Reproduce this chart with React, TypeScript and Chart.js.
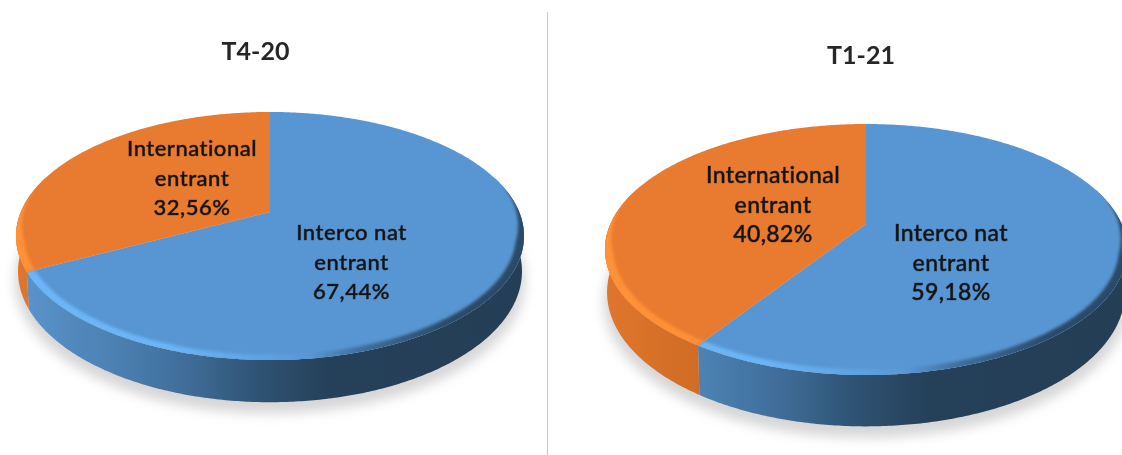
import React, { useEffect, useRef } from "react";
import { Chart, registerables } from "chart.js";

Chart.register(...registerables);

const sliceNames = [["Interco nat", "entrant"], ["International", "entrant"]];
const titles = ["T4-20", "T1-21"];
const valuesT4 = [67.44, 32.56];
const valuesT1 = [59.18, 40.82];
const faceColors = ["#5896D3", "#E97B30"];
const FONT = "Lato, 'Open Sans', sans-serif";

type View = {
  title: string; titleX: number; titleY: number; a: number; b: number; k: number; d: number; fontSize: number;
  labels: { x: number; y: number }[]; padding: any; left: number; width: number;
};

const views: View[] = [
  {
    title: titles[0], titleX: 255.5, titleY: 52, a: 249.2, b: 119.4, k: 0.1935, d: 34, fontSize: 22,
    labels: [{ x: 351.5, y: 233 }, { x: 192, y: 149 }],
    padding: { left: 0, right: 8, top: 0, bottom: 31 }, left: 0, width: 548,
  },
  {
    title: titles[1], titleX: 313, titleY: 56, a: 255.6, b: 120.3, k: 0.203, d: 41, fontSize: 23,
    labels: [{ x: 403, y: 234 }, { x: 225, y: 176 }],
    padding: { left: 62, right: 0, top: 0, bottom: 7 }, left: 548, width: 574,
  },
];

function projector(cx: number, cy: number, v: View) {
  return (ang: number, r = 1, bottom = false) => {
    const u = Math.cos(ang) * r;
    const t = -Math.sin(ang) * r;
    const w = 1 + v.k * t;
    const s = bottom ? 0.992 : 1;
    return {
      x: cx + (v.a * u * s) / w,
      y: cy - (v.b * t) / w + (bottom ? v.d / w : 0),
    };
  };
}

function sampleAngles(start: number, end: number) {
  const out: number[] = [];
  const n = Math.max(2, Math.ceil((end - start) / 0.01));
  for (let i = 0; i <= n; i++) out.push(start + ((end - start) * i) / n);
  return out;
}

function gradient(ctx: CanvasRenderingContext2D, x0: number, x1: number, stops: [number, string][]) {
  const g = ctx.createLinearGradient(x0, 0, x1, 0);
  stops.forEach(([o, c]) => g.addColorStop(o, c));
  return g;
}

const sideStops: [number, string][][] = [
  [[0, "#5A95CC"], [0.2, "#4B80B2"], [0.35, "#3E6B95"], [0.47, "#2F5475"], [0.62, "#254059"], [1, "#243E55"]],
  [[0, "#E0762C"], [0.2, "#CE6B24"], [1, "#B85C1C"]],
];
const rimStops: [number, string][][] = [
  [[0, "#6CB6F8"], [0.3, "#6BB4F6"], [0.48, "#5EA4E2"], [0.58, "#5896D3"], [0.68, "#3F6E9B"], [0.85, "#2A4A68"], [1, "#2A4A68"]],
  [[0, "#FF9138"], [0.3, "#FF8E38"], [1, "#F08334"]],
];

const pie3d = {
  id: "pie3d",
  beforeDatasetsDraw(chart: any, _a: any, opts: any) {
    const view: View = opts.view;
    const ctx: CanvasRenderingContext2D = chart.ctx;
    const arcs = chart.getDatasetMeta(0).data;
    const cx = arcs[0].x;
    const cy = arcs[0].y;
    const P = projector(cx, cy, view);
    const xMin = cx - view.a / Math.sqrt(1 - view.k * view.k);
    const xMax = cx + view.a / Math.sqrt(1 - view.k * view.k);
    const full = sampleAngles(0, Math.PI * 2);

    // soft shadow under the disc
    ctx.save();
    ctx.filter = "blur(6px)";
    ctx.fillStyle = "#D6D6D6";
    ctx.beginPath();
    full.forEach((t, i) => {
      const p = P(t, 1.012, true);
      i ? ctx.lineTo(p.x, p.y + 9) : ctx.moveTo(p.x, p.y + 9);
    });
    ctx.closePath();
    ctx.fill();
    ctx.restore();

    // extruded wall, only the part that faces the viewer
    arcs.forEach((arc: any, i: number) => {
      const angles = sampleAngles(arc.startAngle, arc.endAngle).filter((t) => -Math.sin(t) < 0.3);
      if (angles.length < 2) return;
      ctx.beginPath();
      angles.forEach((t, j) => {
        const p = P(t);
        j ? ctx.lineTo(p.x, p.y) : ctx.moveTo(p.x, p.y);
      });
      angles.slice().reverse().forEach((t) => {
        const p = P(t, 1, true);
        ctx.lineTo(p.x, p.y);
      });
      ctx.closePath();
      ctx.fillStyle = gradient(ctx, xMin, xMax, sideStops[i]);
      ctx.fill();
    });

    // top face
    arcs.forEach((arc: any, i: number) => {
      ctx.beginPath();
      ctx.moveTo(cx, cy);
      sampleAngles(arc.startAngle, arc.endAngle).forEach((t) => {
        const p = P(t);
        ctx.lineTo(p.x, p.y);
      });
      ctx.closePath();
      ctx.fillStyle = faceColors[i];
      ctx.fill();
    });

    // bevel along the front rim
    arcs.forEach((arc: any, i: number) => {
      const angles = sampleAngles(arc.startAngle, arc.endAngle).filter((t) => -Math.sin(t) < 0.2);
      if (angles.length < 2) return;
      ctx.save();
      ctx.beginPath();
      ctx.moveTo(cx, cy);
      sampleAngles(arc.startAngle, arc.endAngle).forEach((t) => {
        const p = P(t);
        ctx.lineTo(p.x, p.y);
      });
      ctx.closePath();
      ctx.clip();
      ctx.filter = "blur(1.5px)";
      ctx.beginPath();
      angles.forEach((t, j) => {
        const p = P(t, 1.01);
        j ? ctx.lineTo(p.x, p.y) : ctx.moveTo(p.x, p.y);
      });
      angles.slice().reverse().forEach((t) => {
        const tv = -Math.sin(t);
        const f = Math.max(0, Math.min(1, (0.15 - tv) / 0.4));
        const p = P(t, 1 - 0.03 * f);
        ctx.lineTo(p.x, p.y);
      });
      ctx.closePath();
      ctx.fillStyle = gradient(ctx, xMin, xMax, rimStops[i]);
      ctx.fill();
      ctx.restore();
    });

    return false;
  },
  afterDraw(chart: any, _a: any, opts: any) {
    const view: View = opts.view;
    const ctx: any = chart.ctx;
    const values: number[] = chart.data.datasets[0].data;
    ctx.save();
    ctx.textAlign = "center";
    ctx.textBaseline = "middle";
    ctx.fillStyle = "#262626";
    ctx.font = `bold 25px ${FONT}`;
    ctx.fillText(view.title, view.titleX, view.titleY);
    ctx.font = `500 ${view.fontSize}px ${FONT}`;
    ctx.letterSpacing = view.fontSize === 22 ? "0.5px" : "0.4px";
    ctx.fillStyle = "#141414";
    ctx.strokeStyle = "rgba(20,20,20,0.6)";
    ctx.lineWidth = 0.7;
    sliceNames.forEach((lines, i) => {
      const pct = values[i].toFixed(2).replace(".", ",") + "%";
      [...lines, pct].forEach((line, j) => {
        const y = view.labels[i].y + j * 29.5;
        ctx.fillText(line, view.labels[i].x, y);
        ctx.strokeText(line, view.labels[i].x, y);
      });
    });
    ctx.restore();
  },
};

function Pie({ view, values }: { view: View; values: number[] }) {
  const ref = useRef<HTMLCanvasElement>(null);
  useEffect(() => {
    const chart = new Chart(ref.current!, {
      type: "pie",
      data: {
        labels: sliceNames.map((n) => n.join(" ")),
        datasets: [{ data: values, backgroundColor: faceColors, borderWidth: 0 }],
      },
      options: {
        animation: false,
        responsive: false,
        layout: { padding: view.padding },
        plugins: { legend: { display: false }, tooltip: { enabled: false }, pie3d: { view } } as any,
      },
      plugins: [pie3d as any],
    });
    return () => chart.destroy();
  }, []);
  return (
    <canvas
      ref={ref}
      width={view.width}
      height={455}
      style={{ position: "absolute", left: view.left, top: 0, width: view.width, height: 455, filter: "blur(0.6px)" }}
    />
  );
}

export default function App() {
  return (
    <div style={{ position: "fixed", left: 0, top: 0, width: 1122, height: 455, background: "#fff", overflow: "hidden" }}>
      <Pie view={views[0]} values={valuesT4} />
      <Pie view={views[1]} values={valuesT1} />
      <div style={{ position: "absolute", left: 547, top: 12, width: 1, height: 443, background: "#C8C8C8" }} />
    </div>
  );
}
